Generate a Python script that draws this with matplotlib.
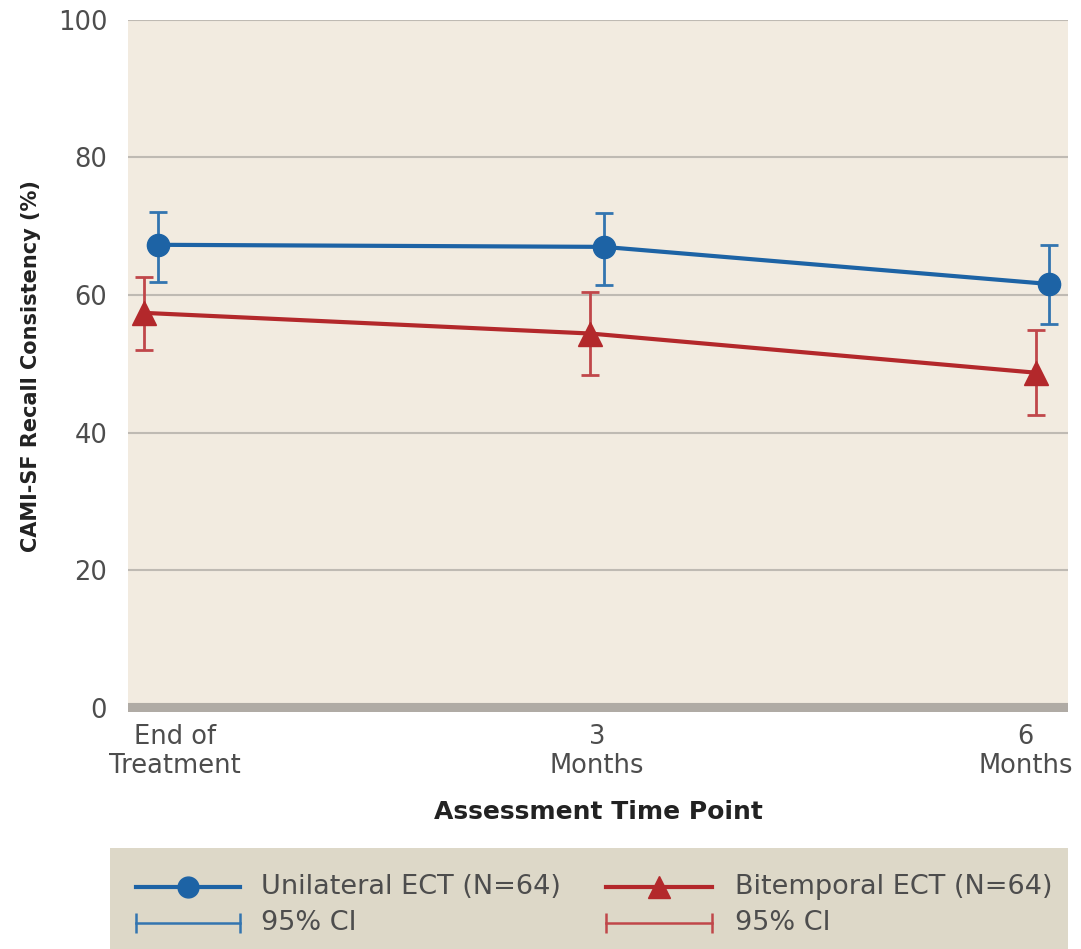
import numpy as np
import matplotlib.pyplot as plt
import matplotlib.transforms as mtransforms

# Data
timepoints = ['End of\nTreatment', '3\nMonths', '6\nMonths']
uni_mean = [67.3, 67.0, 61.6]
uni_lo = [61.9, 61.5, 55.8]
uni_hi = [72.1, 71.9, 67.2]
bi_mean = [57.4, 54.4, 48.7]
bi_lo = [52.0, 48.4, 42.6]
bi_hi = [62.6, 60.5, 54.9]

BLUE = '#1d63a5'
RED = '#b3282b'
BG = '#f2ebe0'
LEG_BG = '#ddd8c8'
GRID = '#bfbab3'
TXT = '#4d4d4d'

plt.rcParams['font.family'] = ['DejaVu Sans']

fig = plt.figure(figsize=(10.81, 9.49), dpi=100)
ax = fig.add_axes([0.1184, 0.250, 0.8696, 0.729])
ax.set_facecolor(BG)

x = np.arange(len(timepoints))
off = 0.015

uni_err = [np.subtract(uni_mean, uni_lo), np.subtract(uni_hi, uni_mean)]
bi_err = [np.subtract(bi_mean, bi_lo), np.subtract(bi_hi, bi_mean)]

ax.errorbar(x - off, bi_mean, yerr=bi_err, color=RED, lw=3, marker='^', ms=17,
            ecolor='#c0474a', elinewidth=2, capsize=6.5, capthick=2, zorder=4)
ax.errorbar(x + off, uni_mean, yerr=uni_err, color=BLUE, lw=3, marker='o', ms=16,
            ecolor='#3375b0', elinewidth=2, capsize=6.5, capthick=2, zorder=5)

ax.set_ylim(-0.6, 100)
ax.set_xlim(-0.052, 2.057)
ax.set_yticks([0, 20, 40, 60, 80, 100])
for yv in [20, 40, 60, 80, 100]:
    ax.axhline(yv, color=GRID, lw=1.5, zorder=1)
ax.axhline(0, color='#b0aba5', lw=8, zorder=2)

for s in ax.spines.values():
    s.set_visible(False)
ax.tick_params(axis='both', length=0, labelsize=18.5, colors=TXT)
ax.tick_params(axis='y', pad=15)
ax.tick_params(axis='x', pad=9)
ax.set_xticks(x)
ax.set_xticklabels(timepoints, linespacing=1.15)
shifts = [24, 0, -17]
for lab, dx in zip(ax.get_xticklabels(), shifts):
    lab.set_transform(lab.get_transform() + mtransforms.ScaledTranslation(dx / 100, 0, fig.dpi_scale_trans))

ax.set_ylabel('CAMI-SF Recall Consistency (%)', fontsize=15, fontweight='bold', color='#222222', labelpad=12)
ax.set_xlabel('Assessment Time Point', fontsize=18, fontweight='bold', color='#222222', labelpad=15)

# Legend box
lax = fig.add_axes([0.1018, 0.0, 0.8862, 0.1064])
lax.set_facecolor(LEG_BG)
lax.set_xlim(0, 1)
lax.set_ylim(0, 1)
lax.set_xticks([])
lax.set_yticks([])
for s in lax.spines.values():
    s.set_visible(False)

rows = [0.61, 0.26]
cols = [(0.027, 0.136, 0.158), (0.518, 0.628, 0.652)]
items = [(BLUE, '#3375b0', 'o', 'Unilateral ECT (N=64)'),
         (RED, '#c0474a', '^', 'Bitemporal ECT (N=64)')]
for (x0, x1, xt), (c, ec, m, name) in zip(cols, items):
    lax.plot([x0, x1], [rows[0]] * 2, color=c, lw=3)
    lax.plot([(x0 + x1) / 2], [rows[0]], marker=m, color=c, ms=15 if m == 'o' else 16)
    lax.text(xt, rows[0], name, fontsize=19.5, color=TXT, va='center')
    lax.plot([x0, x1], [rows[1]] * 2, color=ec, lw=1.8)
    lax.plot([x0, x1], [rows[1]] * 2, color=ec, lw=0, marker='|', ms=14, mew=1.8)
    lax.text(xt, rows[1], '95% CI', fontsize=19.5, color=TXT, va='center')

fig.savefig('out.png', dpi=100, facecolor='white')
